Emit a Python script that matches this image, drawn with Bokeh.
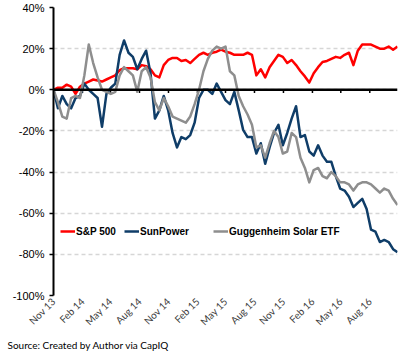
import pandas as pd
from math import pi
from bokeh.plotting import figure
from bokeh.models import (FixedTicker, PrintfTickFormatter, Span, Title, Legend,
                          LegendItem, Range1d, ColumnDataSource)
from bokeh.embed import file_html
from bokeh.resources import INLINE

# ---------------- data (cumulative return, %) ----------------
start_date = "2013-11-01"
n_points = 79
step_days = 14

sp500 = [0, 1, 1, 2.5, 1.5, -2, 1.5, 3, 4, 5, 4.5, 4, 5, 6, 7, 9.5, 10.5, 10.5, 10.5, 10,
         12, 11.5, 10, 7, 6, 12, 14.5, 15.5, 15.5, 14, 14.5, 13, 15, 17, 18, 17, 18, 18.5, 19.5, 18.5,
         18, 17, 17, 17, 18, 17, 7, 10, 6, 11, 14, 17, 16, 13, 14.5, 12, 9, 6.5, 3.5, 8,
         11, 13.5, 14, 15, 16, 15.5, 17, 18, 12, 19, 22, 22, 22, 21, 20, 20, 21, 19.5, 21]

sunpower = [0, -9, -3, -7, -9, -4, -3, 3, 0, -2, -4, -18, -2, 1, 3, 17, 24, 18, 16, 10,
            15, 19, 8, -14, -10, -3, -10, -21, -28, -23, -24, -22, -16, -4, 0, 0, -2, 3, -1, -5,
            -7, -1, -10, -19.5, -23, -23, -31, -26, -36, -28, -21, -17, -27, -21, -14, -8, -23, -22, -30, -32,
            -27, -32, -35, -35, -42, -48, -49, -52, -57, -55, -53, -58, -68, -69, -74, -73, -74, -77.5, -79]

solar_etf = [0, -6, -13, -14, -4, -3, -4, 7, 22, 13, 6, 0, -1, -2, -1, 7, 11, 9, 7, -1,
             9, 11, 6, -6, -10, -4, -8, -13, -14, -15, -16, -13, -7, 0, 9, 15, 19, 21, 20, 21,
             9, 7, -3, -8, -12, -17, -28, -27, -33, -26, -20, -23, -31, -30, -21, -23, -33, -38, -45, -39,
             -38, -42, -43, -40, -42, -45, -45, -46, -49, -46, -45, -45, -46, -48, -50, -48, -49, -53, -56]

series_names = ["S&P 500", "SunPower", "Guggenheim Solar ETF"]
series_colors = ["#FF0000", "#0F3D68", "#8E8E8E"]

tick_dates = ["2013-11-01", "2014-02-01", "2014-05-01", "2014-08-01", "2014-11-01", "2015-02-01",
              "2015-05-01", "2015-08-01", "2015-11-01", "2016-02-01", "2016-05-01", "2016-08-01"]
tick_labels = ["Nov 13", "Feb 14", "May 14", "Aug 14", "Nov 14", "Feb 15",
               "May 15", "Aug 15", "Nov 15", "Feb 16", "May 16", "Aug 16"]
y_ticks = [-100, -80, -60, -40, -20, 0, 20, 40]

source_text = "Source: Created by Author via CapIQ"

# ---------------- derived x positions (days since start) ----------------
dates = pd.date_range(start_date, periods=n_points, freq=f"{step_days}D")
x_days = [(d - dates[0]).days for d in dates]
tick_x = [(pd.Timestamp(t) - dates[0]).days for t in tick_dates]

p = figure(width=408, height=354, output_backend="svg", toolbar_location=None,
           x_range=Range1d(0, x_days[-1]), y_range=Range1d(-100, 40),
           min_border_left=53, min_border_right=11, min_border_top=7, min_border_bottom=59)
p.outline_line_color = None
p.background_fill_color = "white"
p.border_fill_color = "white"

# grid
p.xgrid.visible = False
p.ygrid.ticker = FixedTicker(ticks=y_ticks)
p.ygrid.grid_line_color = "#D6D6D6"
p.ygrid.grid_line_width = 1.5
p.ygrid.grid_line_dash = "4 3"

# y axis
p.yaxis.ticker = FixedTicker(ticks=y_ticks)
p.yaxis.formatter = PrintfTickFormatter(format="%d%%")
p.yaxis.axis_line_color = "black"
p.yaxis.axis_line_width = 2
p.yaxis.major_tick_line_color = "black"
p.yaxis.major_tick_line_width = 1.5
p.yaxis.major_tick_out = 4
p.yaxis.major_tick_in = 0
p.yaxis.minor_tick_line_color = None
p.yaxis.major_label_standoff = 5
p.yaxis.major_label_text_font = "Liberation Sans"
p.yaxis.major_label_text_font_size = "11px"
p.yaxis.major_label_text_color = "black"

# x axis (labels only, at bottom)
p.xaxis.ticker = FixedTicker(ticks=tick_x)
p.xaxis.major_label_overrides = {tx: lab for tx, lab in zip(tick_x, tick_labels)}
p.xaxis.major_label_orientation = pi / 4
p.xaxis.axis_line_color = None
p.xaxis.major_tick_line_color = None
p.xaxis.minor_tick_line_color = None
p.xaxis.major_tick_out = 0
p.xaxis.major_tick_in = 0
p.xaxis.major_label_standoff = 4
p.xaxis.major_label_text_font = "Lato"
p.xaxis.major_label_text_font_size = "10px"
p.xaxis.major_label_text_color = "#404040"

# zero line with small quarter ticks
p.add_layout(Span(location=0, dimension="width", line_color="black", line_width=2.5))
p.segment(x0=tick_x, y0=[0] * len(tick_x), x1=tick_x, y1=[-1.6] * len(tick_x),
          line_color="black", line_width=1.5)

renderers = []
for name, vals, col in zip(series_names, [sp500, sunpower, solar_etf], series_colors):
    src = ColumnDataSource(dict(x=x_days, y=vals))
    r = p.line("x", "y", source=src, line_color=col, line_width=2.5, line_join="round")
    renderers.append(r)

legend_x = [7, 71, 160]
for name, r, lx in zip(series_names, renderers, legend_x):
    leg = Legend(items=[LegendItem(label=name, renderers=[r])], location=(lx, 58),
                 orientation="horizontal", glyph_width=15, glyph_height=12, label_height=12,
                 label_standoff=1, padding=0, margin=0, spacing=0,
                 label_text_font="Liberation Sans", label_text_font_style="bold",
                 label_text_font_size="10px", label_text_color="black",
                 border_line_color=None, background_fill_alpha=0)
    p.add_layout(leg)

p.add_layout(Title(text=source_text, align="left", offset=-46, standoff=5,
                   text_font="Lato", text_font_size="10px", text_font_style="normal",
                   text_color="black"), "below")

open("out.html", "w").write(file_html(p, INLINE))
